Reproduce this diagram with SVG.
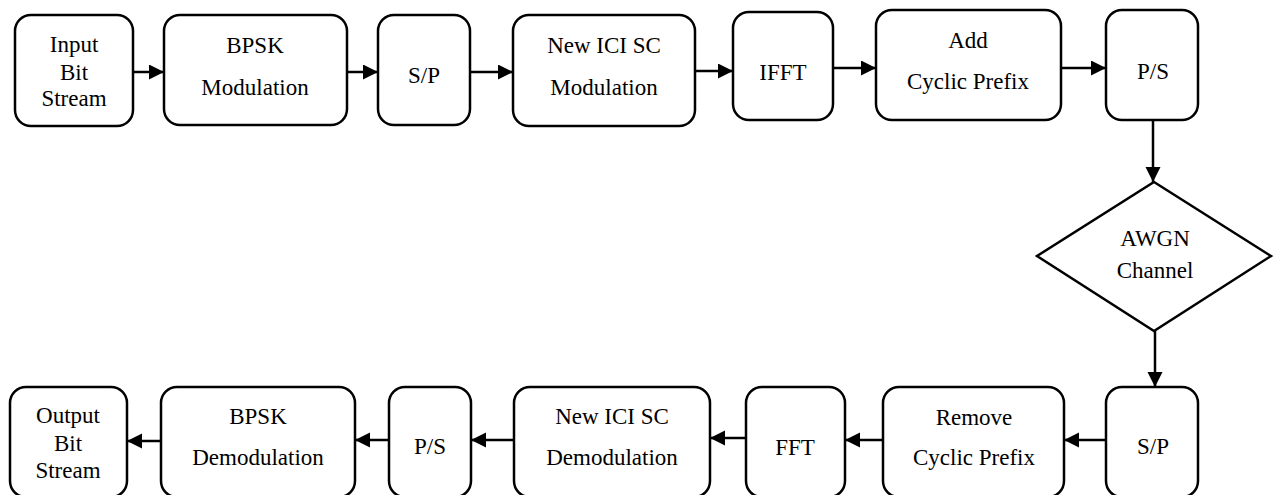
<svg xmlns="http://www.w3.org/2000/svg" width="1274" height="495" viewBox="0 0 1274 495">
<style>
.box{fill:#fff;stroke:#000;stroke-width:2.5}
.t{font-family:"Liberation Serif","Times New Roman",serif;font-size:23px;fill:#000;text-anchor:middle}
.c{fill:none;stroke:#000;stroke-width:2.5}
</style>
<defs>
<marker id="ah" markerUnits="userSpaceOnUse" markerWidth="16" markerHeight="16" refX="15" refY="7.5" orient="auto">
<path d="M0,0 L15,7.5 L0,15 z" fill="#000"/>
</marker>
</defs>
<rect width="1274" height="495" fill="#fff"/>
<g id="connectors">
<line class="c" x1="133" y1="72" x2="164" y2="72" marker-end="url(#ah)"/>
<line class="c" x1="347" y1="72" x2="378" y2="72" marker-end="url(#ah)"/>
<line class="c" x1="470" y1="72" x2="513" y2="72" marker-end="url(#ah)"/>
<line class="c" x1="695" y1="71" x2="733" y2="71" marker-end="url(#ah)"/>
<line class="c" x1="833" y1="68" x2="876" y2="68" marker-end="url(#ah)"/>
<line class="c" x1="1061" y1="68" x2="1106" y2="68" marker-end="url(#ah)"/>
<line class="c" x1="1153" y1="120" x2="1153" y2="182" marker-end="url(#ah)"/>
<line class="c" x1="1155" y1="331" x2="1155" y2="387" marker-end="url(#ah)"/>
<line class="c" x1="1106" y1="440" x2="1064" y2="440" marker-end="url(#ah)"/>
<line class="c" x1="883" y1="440" x2="845" y2="440" marker-end="url(#ah)"/>
<line class="c" x1="746" y1="438" x2="710" y2="438" marker-end="url(#ah)"/>
<line class="c" x1="514" y1="440" x2="471" y2="440" marker-end="url(#ah)"/>
<line class="c" x1="389" y1="440" x2="355" y2="440" marker-end="url(#ah)"/>
<line class="c" x1="161" y1="441" x2="127" y2="441" marker-end="url(#ah)"/>
</g>
<g id="n1"><rect class="box" x="15" y="15" width="118" height="111" rx="16"/>
<text class="t" x="74" y="52">Input</text><text class="t" x="74" y="80">Bit</text><text class="t" x="74" y="106">Stream</text></g>
<g id="n2"><rect class="box" x="164" y="15" width="183" height="110" rx="16"/>
<text class="t" x="255" y="53">BPSK</text><text class="t" x="255" y="95">Modulation</text></g>
<g id="n3"><rect class="box" x="378" y="15" width="92" height="110" rx="16"/>
<text class="t" x="424" y="83">S/P</text></g>
<g id="n4"><rect class="box" x="513" y="15" width="182" height="111" rx="16"/>
<text class="t" x="604" y="53">New ICI SC</text><text class="t" x="604" y="95">Modulation</text></g>
<g id="n5"><rect class="box" x="733" y="12" width="100" height="108" rx="16"/>
<text class="t" x="783" y="80">IFFT</text></g>
<g id="n6"><rect class="box" x="876" y="10" width="185" height="110" rx="16"/>
<text class="t" x="968" y="48">Add</text><text class="t" x="968" y="89">Cyclic Prefix</text></g>
<g id="n7"><rect class="box" x="1106" y="10" width="92" height="110" rx="16"/>
<text class="t" x="1153" y="79">P/S</text></g>
<g id="n8"><polygon class="box" points="1154,182 1271,256 1154,331 1037,256"/>
<text class="t" x="1155" y="246">AWGN</text><text class="t" x="1155" y="278">Channel</text></g>
<g id="n9"><rect class="box" x="1106" y="387" width="92" height="110" rx="16"/>
<text class="t" x="1153" y="454">S/P</text></g>
<g id="n10"><rect class="box" x="883" y="387" width="181" height="110" rx="16"/>
<text class="t" x="974" y="425">Remove</text><text class="t" x="974" y="465">Cyclic Prefix</text></g>
<g id="n11"><rect class="box" x="746" y="387" width="99" height="110" rx="16"/>
<text class="t" x="795" y="455">FFT</text></g>
<g id="n12"><rect class="box" x="514" y="387" width="196" height="110" rx="16"/>
<text class="t" x="612" y="424">New ICI SC</text><text class="t" x="612" y="465">Demodulation</text></g>
<g id="n13"><rect class="box" x="389" y="387" width="82" height="110" rx="16"/>
<text class="t" x="430" y="454">P/S</text></g>
<g id="n14"><rect class="box" x="161" y="387" width="194" height="110" rx="16"/>
<text class="t" x="258" y="424">BPSK</text><text class="t" x="258" y="465">Demodulation</text></g>
<g id="n15"><rect class="box" x="10" y="387" width="117" height="110" rx="16"/>
<text class="t" x="68" y="423">Output</text><text class="t" x="68" y="451">Bit</text><text class="t" x="68" y="478">Stream</text></g>
</svg>
